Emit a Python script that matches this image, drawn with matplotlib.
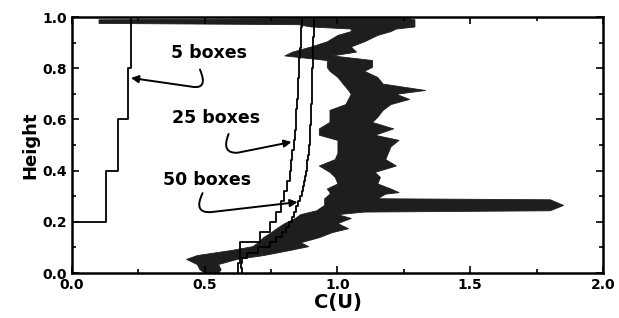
import numpy as np
from matplotlib import pyplot as plt
from matplotlib.patches import FancyArrowPatch
from matplotlib.path import Path
from matplotlib.ticker import MultipleLocator

# box averaged C(U) profiles, one value per box, bottom to top
boxes_5 = [0.0, 0.130, 0.174, 0.212, 0.221]
boxes_25 = [0.625, 0.632, 0.632, 0.707, 0.745, 0.770, 0.788, 0.798, 0.811, 0.820,
            0.825, 0.830, 0.835, 0.839, 0.842, 0.845, 0.848, 0.851, 0.853, 0.855,
            0.857, 0.859, 0.861, 0.863, 0.865]
boxes_50 = [0.640, 0.635, 0.640, 0.660, 0.700, 0.745, 0.770, 0.790, 0.808, 0.818,
            0.828, 0.838, 0.845, 0.853, 0.858, 0.865, 0.870, 0.874, 0.878, 0.882,
            0.885, 0.887, 0.889, 0.891, 0.893, 0.895, 0.896, 0.897, 0.898, 0.899,
            0.900, 0.901, 0.902, 0.903, 0.903, 0.904, 0.905, 0.905, 0.906, 0.906,
            0.907, 0.907, 0.908, 0.908, 0.909, 0.909, 0.910, 0.910, 0.911, 0.911]

# raw (unaveraged) C(U): left / right envelope of the noisy trace
raw_height = [0.000, 0.015, 0.035, 0.055, 0.070, 0.090, 0.105, 0.120, 0.140, 0.160,
              0.175, 0.195, 0.215, 0.230, 0.240, 0.245, 0.266, 0.288, 0.292, 0.310,
              0.316, 0.330, 0.350, 0.375, 0.395, 0.420, 0.445, 0.470, 0.495, 0.520,
              0.540, 0.565, 0.590, 0.610, 0.637, 0.660, 0.680, 0.700, 0.715, 0.740,
              0.766, 0.790, 0.805, 0.832, 0.850, 0.865, 0.885, 0.905, 0.930, 0.945,
              0.955, 0.963, 0.972, 0.977, 0.991, 0.995]
raw_left = [0.50, 0.48, 0.47, 0.43, 0.47, 0.60, 0.68, 0.70, 0.72, 0.75,
            0.77, 0.80, 0.84, 0.86, 0.90, 0.92, 0.95, 0.95, 0.95, 0.97,
            0.97, 0.96, 1.00, 0.99, 0.97, 0.93, 0.99, 1.00, 1.00, 1.00,
            0.93, 0.93, 0.97, 0.97, 0.97, 1.03, 1.04, 1.05, 1.04, 1.02,
            1.00, 0.97, 0.96, 0.96, 0.80, 0.83, 0.90, 0.96, 1.00, 1.05,
            1.05, 0.90, 0.85, 0.10, 0.10, 0.85]
raw_right = [0.55, 0.56, 0.55, 0.62, 0.72, 0.82, 0.89, 0.86, 0.93, 0.98,
             1.04, 1.00, 1.05, 1.00, 1.10, 1.80, 1.85, 1.80, 1.15, 1.18,
             1.23, 1.20, 1.15, 1.16, 1.14, 1.22, 1.18, 1.19, 1.20, 1.23,
             1.14, 1.21, 1.13, 1.15, 1.17, 1.20, 1.27, 1.22, 1.33, 1.17,
             1.15, 1.10, 1.13, 1.13, 0.98, 1.07, 1.05, 1.10, 1.15, 1.20,
             1.22, 1.29, 1.29, 1.29, 1.29, 1.27]

labels = ["5 boxes", "25 boxes", "50 boxes"]


def step_profile(vals):
    edges = np.linspace(0, 1, len(vals) + 1)
    y = np.column_stack([edges[:-1], edges[1:]]).ravel()
    x = np.repeat(vals, 2)
    return x, y


def curly_arrow(ax, start, ctrl, bend, tip):
    path = Path([start, ctrl, bend, tip],
                [Path.MOVETO, Path.CURVE3, Path.CURVE3, Path.LINETO])
    arr = FancyArrowPatch(path=path, arrowstyle='-|>', mutation_scale=11,
                          lw=1.4, color='black')
    ax.add_patch(arr)


def main():
    fig = plt.figure(figsize=(6.19, 3.18), dpi=100)
    ax = fig.add_axes([0.1163, 0.1415, 0.8577, 0.805])

    ax.fill_betweenx(raw_height, raw_left, raw_right, color='#1e1e1e', lw=0.6)

    for vals in [boxes_5, boxes_25, boxes_50]:
        x, y = step_profile(vals)
        ax.plot(x, y, color='black', lw=1.3)

    ax.set_xlim(0, 2)
    ax.set_ylim(0, 1)
    ax.xaxis.set_major_locator(MultipleLocator(0.5))
    ax.xaxis.set_minor_locator(MultipleLocator(0.25))
    ax.yaxis.set_major_locator(MultipleLocator(0.2))
    ax.yaxis.set_minor_locator(MultipleLocator(0.1))
    ax.xaxis.set_major_formatter(lambda v, p: f"{v:.1f}")
    ax.yaxis.set_major_formatter(lambda v, p: f"{v:.1f}")
    ax.tick_params(which='both', direction='in', top=True, right=True, width=1.2)
    ax.tick_params(which='major', length=5, labelsize=10)
    ax.tick_params(which='minor', length=3)
    for lab in ax.get_xticklabels() + ax.get_yticklabels():
        lab.set_fontweight('bold')
    for sp in ax.spines.values():
        sp.set_linewidth(1.8)

    ax.set_xlabel('C(U)', fontsize=14, fontweight='bold', labelpad=1)
    ax.set_ylabel('Height', fontsize=13, fontweight='bold', labelpad=2)

    ax.text(0.516, 0.859, labels[0], fontsize=12.5, fontweight='bold', ha='center', va='center')
    ax.text(0.542, 0.605, labels[1], fontsize=12.5, fontweight='bold', ha='center', va='center')
    ax.text(0.508, 0.363, labels[2], fontsize=12.5, fontweight='bold', ha='center', va='center')

    curly_arrow(ax, (0.482, 0.795), (0.515, 0.715), (0.45, 0.728), (0.222, 0.762))
    curly_arrow(ax, (0.590, 0.543), (0.560, 0.465), (0.625, 0.470), (0.827, 0.512))
    curly_arrow(ax, (0.492, 0.312), (0.455, 0.232), (0.525, 0.238), (0.850, 0.277))

    plt.savefig('out.png', dpi=100)


if __name__ == "__main__":
    main()
